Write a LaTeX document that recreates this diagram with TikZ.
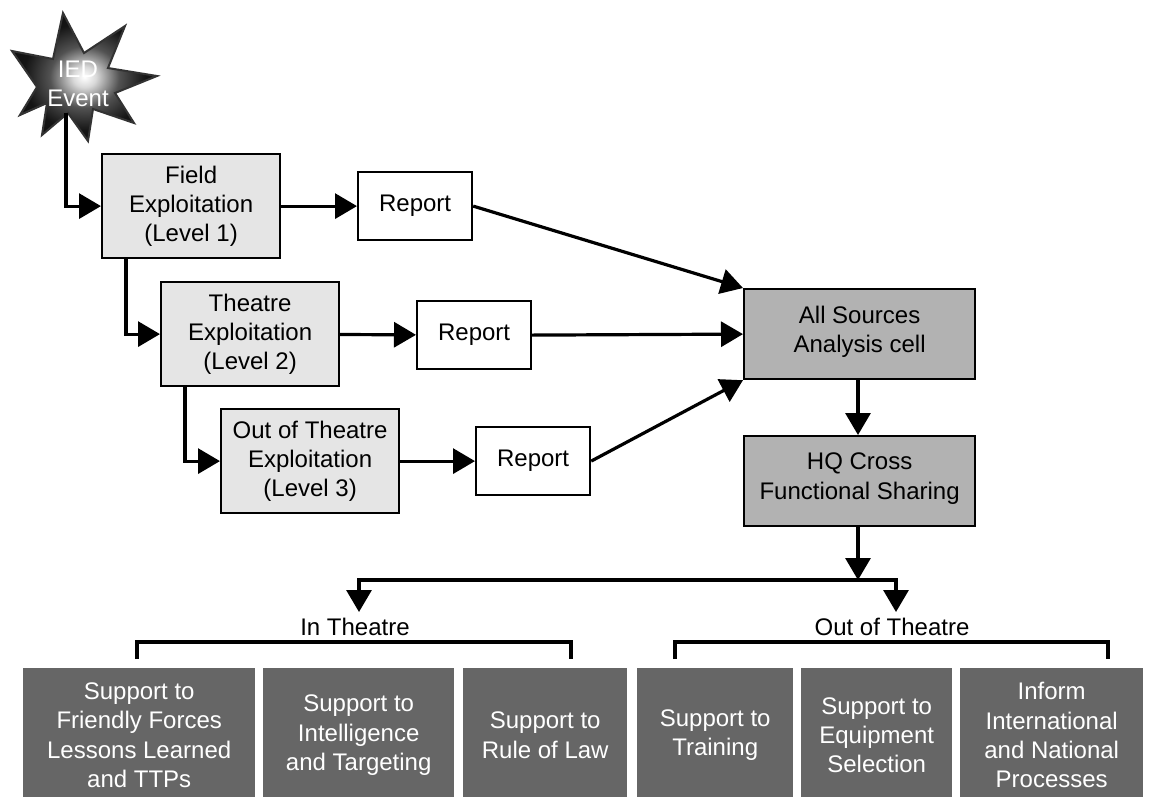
\documentclass[tikz,border=0pt]{standalone}
\usepackage{fontspec}
\setmainfont{Liberation Sans}
\usetikzlibrary{arrows.meta}

\pgfdeclareradialshading{blast}{\pgfpoint{0bp}{0bp}}{%
  color(0bp)=(white); color(4bp)=(white!85!black); color(12bp)=(black!68); color(21bp)=(black!92); color(50bp)=(black)}

\tikzset{
  boxbase/.style   = {draw, line width=2.2pt, align=center, minimum height=#1, inner sep=0pt, anchor=north west},
  levelbox/.style  = {boxbase=104pt, fill=black!10, minimum width=178pt},
  reportbox/.style = {boxbase=68pt, fill=white, minimum width=114pt},
  fusionbox/.style = {boxbase=90pt, fill=black!30, minimum width=231pt, text depth=10pt},
  outcomebox/.style= {fill=black!60, text=white, align=center, minimum height=134pt, inner sep=0pt, anchor=north west},
  conn/.style      = {line width=3.2pt, -{Triangle[length=22pt,width=25pt]}},
  bracket/.style   = {line width=3.2pt},
}

\begin{document}
\begin{tikzpicture}[x=1pt, y=-1pt, font=\fontsize{24}{29.3}\selectfont]
    \useasboundingbox (0,0) rectangle (1149,796);

    % the star
    \draw[line width=2pt, black!80, shading=blast]
        (63,13) -- (84,53) -- (125,26) -- (108,68) -- (157,76) -- (115,93) -- (134,123)
        -- (93,109) -- (88,141) -- (68,113) -- (42,135) -- (47,103) -- (20,115) -- (37,87)
        -- (12,51) -- (53,59) -- cycle;
    \node[text=white, align=center, inner sep=0pt] (ied) at (78,84) {IED\\Event};
    \coordinate (blast) at (66,113);

    % the three levels
    \node[levelbox] (field)   at (101,153) {Field\\Exploitation\\(Level 1)};
    \node[levelbox] (theatre) at (160,281) {Theatre\\Exploitation\\(Level 2)};
    \node[levelbox] (out)     at (220,408) {Out of Theatre\\Exploitation\\(Level 3)};

    \node[reportbox] (rep1) at (357,171) {Report};
    \node[reportbox] (rep2) at (416,300) {Report};
    \node[reportbox] (rep3) at (475,426) {Report};

    \node[fusionbox] (cell) at (743,288) {All Sources\\Analysis cell};
    \node[fusionbox] (hq)   at (743,435) {HQ Cross\\Functional Sharing};

    % bottom row
    \node[outcomebox, minimum width=232pt] (friendly) at (23,668)  {Support to\\Friendly Forces\\Lessons Learned\\and TTPs};
    \node[outcomebox, minimum width=191pt] (intel)    at (263,668) {Support to\\Intelligence\\and Targeting};
    \node[outcomebox, minimum width=164pt] (law)      at (463,668) {Support to\\Rule of Law};
    \node[outcomebox, minimum width=156pt] (training) at (637,668) {Support to\\Training};
    \node[outcomebox, minimum width=151pt] (equip)    at (801,668) {Support to\\Equipment\\Selection};
    \node[outcomebox, minimum width=183pt] (inform)   at (960,668) {Inform\\International\\and National\\Processes};

    \node[inner sep=0pt] (intxt)  at (355,627) {In Theatre};
    \node[inner sep=0pt] (outtxt) at (892,627) {Out of Theatre};

    \coordinate (split)   at (858,580);
    \coordinate (inend)   at (359,612);
    \coordinate (outend)  at (896,612);
    \coordinate (inleft)  at (137,659);
    \coordinate (inright) at (571,659);
    \coordinate (outleft) at (675,659);
    \coordinate (outright) at (1108,659);

    \draw[conn] (blast) |- (field.west);
    \draw[conn] ([xshift=25pt]field.south west) |- (theatre.west);
    \draw[conn] ([xshift=25pt]theatre.south west) |- (out.west);

    \draw[conn] (field) -- (rep1);
    \draw[conn] (theatre) -- (rep2);
    \draw[conn] (out) -- (rep3);

    \draw[conn] (rep1.east) -- (cell.north west);
    \draw[conn] (rep2.east) -- (cell.west);
    \draw[conn] (rep3.east) -- (cell.south west);

    \draw[conn] (cell.south -| split) -- (hq.north -| split);
    \draw[conn] (hq.south -| split) -- (split);
    \draw[conn] (split) -| (inend);
    \draw[conn] (split) -| (outend);

    \draw[bracket] (inleft) -- ++(0,-17) -| (inright);
    \draw[bracket] (outleft) -- ++(0,-17) -| (outright);
\end{tikzpicture}
\end{document}
